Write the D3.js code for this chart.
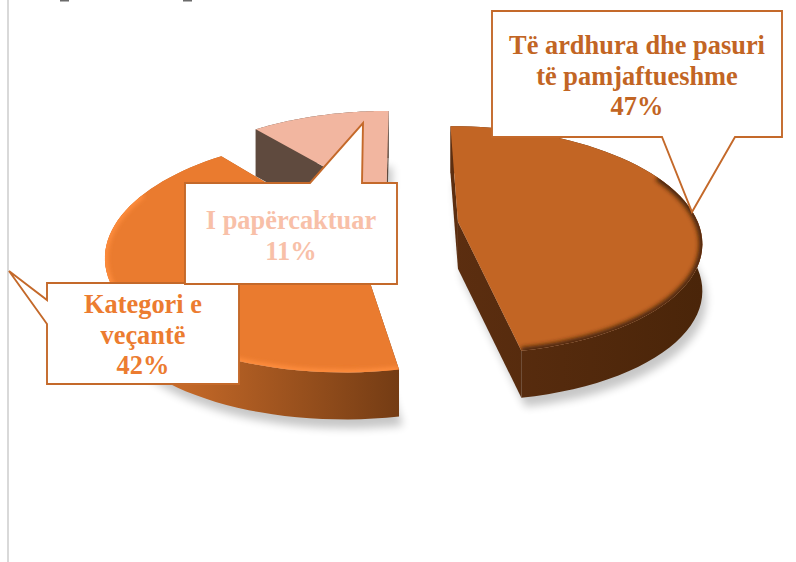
<!DOCTYPE html>
<html>
<head>
<meta charset="utf-8">
<script src="https://cdn.jsdelivr.net/npm/d3@7/dist/d3.min.js"></script>
<style>
  html, body { margin: 0; padding: 0; background: #fff; overflow: hidden; }
  svg { display: block; }
  text { font-family: "Liberation Serif", serif; font-weight: bold; text-anchor: middle; }
</style>
</head>
<body>
<svg id="chart" width="796" height="562"></svg>
<script>
const categories = ["Të ardhura dhe pasuri të pamjaftueshme", "Kategori e veçantë", "I papërcaktuar"];
const values = [47, 42, 11];
const topColors = ["#c26524", "#ea7b2f", "#f2b6a0"];
const sideFrom = ["#5c2e10", "#e0782f", "#5f4a3e"];
const sideTo = ["#4a2509", "#743c14", "#5f4a3e"];
const rimColors = ["#4a2509", "#ff8d3e", "#f2b6a0"];
const labelColors = ["#c26524", "#ec7c30", "#f8c0a8"];
const labelLines = [
  ["Të ardhura dhe pasuri", "të pamjaftueshme", "47%"],
  ["Kategori e", "veçantë", "42%"],
  ["I papërcaktuar", "11%"]
];

// projection of the tilted disc, fitted by eye
const cx = 404, cy = 224, R = 240.5, Ry = 111.5, k = 0.161, depth = 47, explode = 0.226;

const svg = d3.select("#chart");
const defs = svg.append("defs");
defs.append("filter").attr("id", "shadow").attr("x", "-20%").attr("y", "-20%")
  .attr("width", "140%").attr("height", "140%")
  .append("feGaussianBlur").attr("stdDeviation", 4);
defs.append("filter").attr("id", "soft").attr("x", "-20%").attr("y", "-20%")
  .attr("width", "140%").attr("height", "140%")
  .append("feGaussianBlur").attr("stdDeviation", 2.2);

// grey rule on the left of the page
svg.append("line").attr("x1", 8).attr("x2", 8).attr("y1", 0).attr("y2", 562)
  .attr("stroke", "#d9d9d9").attr("stroke-width", 2);

// the heading is cropped in the source, only two specks of it are left
svg.selectAll(null).data([60, 183]).enter().append("rect")
  .attr("x", d => d).attr("y", 0).attr("width", 9).attr("height", 1.5)
  .attr("fill", "#6b6b6b");

const slices = d3.pie().sort(null).value(d => d)(values);

function project(d, a, r, z) {
  let mid = (d.startAngle + d.endAngle) / 2;
  let u = r * Math.sin(a) + explode * Math.sin(mid);
  let v = -r * Math.cos(a) - explode * Math.cos(mid);
  let s = 1 / (1 - k * v);
  return [cx + R * u * s, cy + Ry * v * s + z * depth];
}

function arcPoints(d, r, z, from, to) {
  return d3.range(0, 61).map(i => project(d, from + (to - from) * i / 60, r, z));
}

function facePoints(d, z) {
  return [project(d, 0, 0, z)].concat(arcPoints(d, 1, z, d.startAngle, d.endAngle));
}

const line = d3.line();

// back to front
[2, 1, 0].forEach(i => {
  let d = slices[i];
  let g = svg.append("g");
  let top = facePoints(d, 0), bottom = facePoints(d, 1);

  g.append("path")
    .attr("d", line(bottom) + "Z")
    .attr("transform", "translate(4,9)")
    .attr("fill", "#000").attr("opacity", 0.22)
    .attr("filter", "url(#shadow)");

  let xs = bottom.map(p => p[0]);
  let grad = defs.append("linearGradient").attr("id", "side" + i)
    .attr("gradientUnits", "userSpaceOnUse")
    .attr("x1", d3.min(xs)).attr("x2", d3.max(xs)).attr("y1", 0).attr("y2", 0);
  grad.append("stop").attr("offset", 0).attr("stop-color", sideFrom[i]);
  grad.append("stop").attr("offset", 1).attr("stop-color", sideTo[i]);

  // walls: the two radial cuts, then the outer curve
  let n = top.length - 1;
  [1, n].forEach(j => {
    g.append("path")
      .attr("d", line([top[0], top[j], bottom[j], bottom[0]]) + "Z")
      .attr("fill", "url(#side" + i + ")");
  });
  let outerTop = top.slice(1), outerBottom = bottom.slice(1).reverse();
  g.append("path").attr("d", line(outerTop.concat(outerBottom)) + "Z")
    .attr("fill", "url(#side" + i + ")");

  g.append("path").attr("d", line(top) + "Z").attr("fill", topColors[i]);

  // soft bevel along the near part of the rim
  defs.append("clipPath").attr("id", "face" + i)
    .append("path").attr("d", line(top) + "Z");
  let rim = g.append("g").attr("clip-path", "url(#face" + i + ")");
  if (i < 2) {
    let from = i == 0 ? Math.PI * 0.36 : d.startAngle;
    let to = i == 0 ? d.endAngle : Math.PI * 1.62;
    rim.append("path").attr("d", line(arcPoints(d, 1, 0, from, to)))
      .attr("fill", "none").attr("stroke", rimColors[i])
      .attr("stroke-width", i == 0 ? 7 : 6)
      .attr("filter", "url(#soft)");
  }
});

// callouts
const callouts = [
  { box: [492, 11, 782, 137], path: [[662, 137], [692, 212], [735, 137]], lines: 0, side: "bottom", base: 54 },
  { box: [47, 283, 239, 384], path: [[47, 300], [9, 271], [47, 324]], lines: 1, side: "left", base: 313 },
  { box: [185, 183, 397, 284], path: [[362, 183], [363, 123], [310, 183]], lines: 2, side: "top", base: 229 }
];

callouts.forEach(c => {
  let [x0, y0, x1, y1] = c.box;
  let pts;
  if (c.side == "bottom") pts = [[x0, y0], [x1, y0], [x1, y1], ...c.path.slice().reverse(), [x0, y1]];
  if (c.side == "left") pts = [[x0, y0], [x1, y0], [x1, y1], [x0, y1], ...c.path.slice().reverse()];
  if (c.side == "top") pts = [[x0, y0], ...c.path.slice().reverse(), [x1, y0], [x1, y1], [x0, y1]];
  svg.append("path").attr("d", line(pts) + "Z")
    .attr("fill", "#fff").attr("stroke", "#c4692a").attr("stroke-width", 1.9);
  svg.selectAll(null).data(labelLines[c.lines]).enter().append("text")
    .attr("x", (x0 + x1) / 2)
    .attr("y", (t, j) => c.base + j * 30.5)
    .attr("font-size", 26.4)
    .attr("fill", labelColors[c.lines])
    .text(t => t);
});
</script>
</body>
</html>
